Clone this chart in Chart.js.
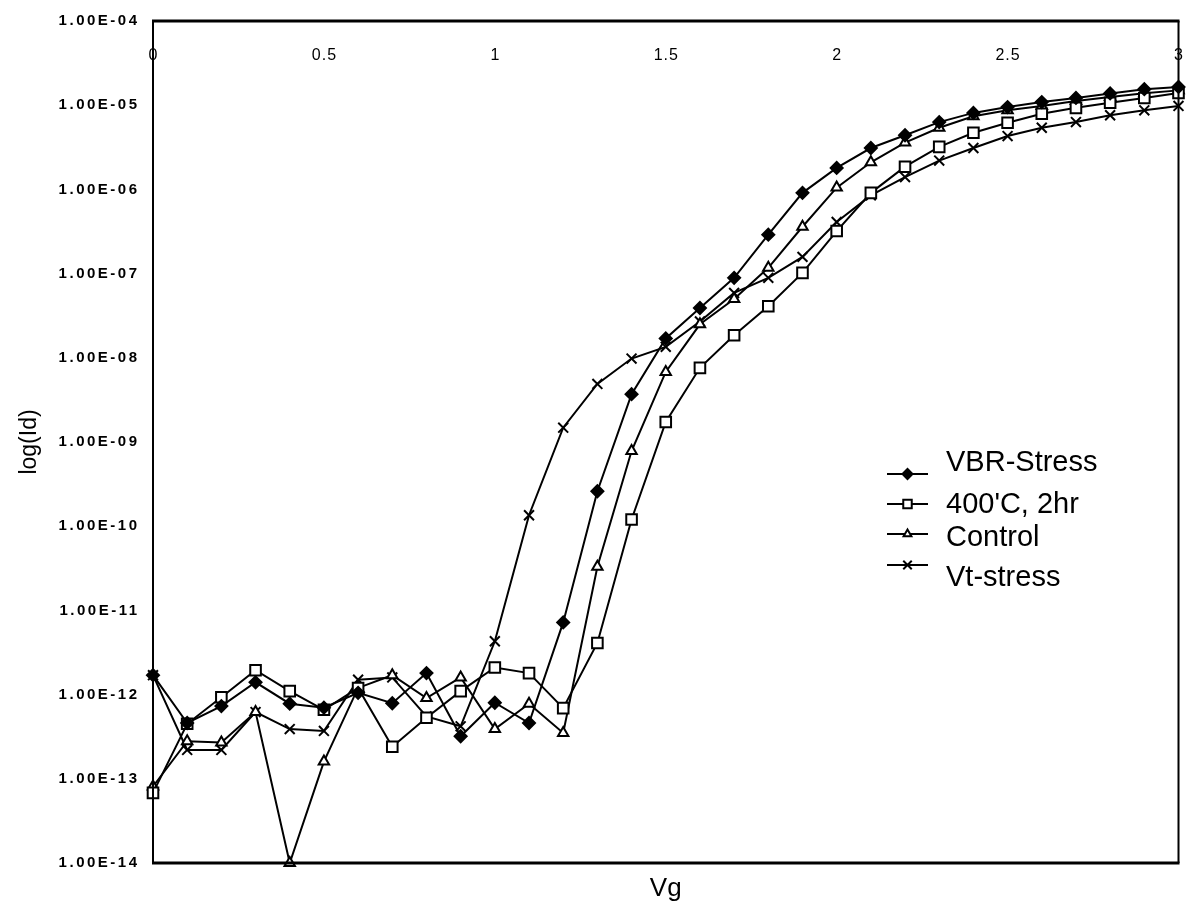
<!DOCTYPE html>
<html>
<head>
<meta charset="utf-8">
<title>log(Id) vs Vg</title>
<script src="https://cdn.jsdelivr.net/npm/chart.js@4.4.1/dist/chart.umd.min.js"></script>
<style>
  html, body { margin: 0; padding: 0; background: #fff; }
  #wrap { width: 1188px; height: 913px; }
</style>
</head>
<body>
<div id="wrap"><canvas id="c" width="1188" height="913"></canvas></div>
<script>
// Gate voltage sweep (V)
const vg = [0, 0.1, 0.2, 0.3, 0.4, 0.5, 0.6, 0.7, 0.8, 0.9, 1.0,
            1.1, 1.2, 1.3, 1.4, 1.5, 1.6, 1.7, 1.8, 1.9, 2.0,
            2.1, 2.2, 2.3, 2.4, 2.5, 2.6, 2.7, 2.8, 2.9, 3.0];

// Drain current (A) for each sample
const vbrStress = [1.7e-12, 4.6e-13, 7.3e-13, 1.4e-12, 7.8e-13, 7.0e-13, 1.05e-12, 7.9e-13, 1.8e-12, 3.2e-13, 8.0e-13,
                   4.6e-13, 7.2e-12, 2.6e-10, 3.7e-9, 1.7e-8, 3.9e-8, 8.9e-8, 2.9e-7, 9.1e-7, 1.8e-6,
                   3.1e-6, 4.4e-6, 6.3e-6, 8.1e-6, 9.5e-6, 1.09e-5, 1.22e-5, 1.38e-5, 1.55e-5, 1.65e-5];
const anneal400 = [6.8e-14, 4.5e-13, 9.3e-13, 1.95e-12, 1.1e-12, 6.6e-13, 1.2e-12, 2.4e-13, 5.3e-13, 1.1e-12, 2.1e-12,
                   1.8e-12, 6.9e-13, 4.1e-12, 1.2e-10, 1.73e-9, 7.6e-9, 1.85e-8, 4.1e-8, 1.02e-7, 3.2e-7,
                   9.1e-7, 1.86e-6, 3.2e-6, 4.7e-6, 6.2e-6, 7.9e-6, 9.3e-6, 1.07e-5, 1.22e-5, 1.4e-5];
const control = [8.1e-14, 2.8e-13, 2.7e-13, 6.2e-13, 1.0e-14, 1.6e-13, 1.2e-12, 1.7e-12, 9.1e-13, 1.6e-12, 3.9e-13,
                 7.8e-13, 3.5e-13, 3.3e-11, 7.8e-10, 6.8e-9, 2.5e-8, 5.0e-8, 1.17e-7, 3.6e-7, 1.05e-6,
                 2.1e-6, 3.6e-6, 5.4e-6, 7.4e-6, 8.7e-6, 9.8e-6, 1.12e-5, 1.25e-5, 1.39e-5, 1.5e-5];
const vtStress = [1.7e-12, 2.2e-13, 2.2e-13, 6.2e-13, 3.9e-13, 3.7e-13, 1.5e-12, 1.6e-12, 5.5e-13, 4.2e-13, 4.3e-12,
                  1.35e-10, 1.48e-9, 4.9e-9, 9.8e-9, 1.35e-8, 2.7e-8, 5.9e-8, 8.9e-8, 1.58e-7, 4.1e-7,
                  8.5e-7, 1.4e-6, 2.2e-6, 3.1e-6, 4.3e-6, 5.4e-6, 6.3e-6, 7.6e-6, 8.7e-6, 9.8e-6];

const seriesNames = ['VBR-Stress', "400'C, 2hr", 'Control', 'Vt-stress'];

// Axis ticks
const xTickValues = [0, 0.5, 1, 1.5, 2, 2.5, 3];
const xTickLabels = ['0', '0.5', '1', '1.5', '2', '2.5', '3'];
const yTickValues = [1e-14, 1e-13, 1e-12, 1e-11, 1e-10, 1e-9, 1e-8, 1e-7, 1e-6, 1e-5, 1e-4];
const yTickLabels = ['1.00E-14', '1.00E-13', '1.00E-12', '1.00E-11', '1.00E-10', '1.00E-09',
                     '1.00E-08', '1.00E-07', '1.00E-06', '1.00E-05', '1.00E-04'];

const FONT = '"Liberation Sans", Arial, Helvetica, sans-serif';

function pts(values) {
  return vg.map((x, i) => ({ x: x, y: values[i] }));
}

function series(label, values, style, radius, legendRadius, fill) {
  return {
    label: label,
    data: pts(values),
    borderColor: '#000',
    borderWidth: 2,
    pointStyle: style,
    pointRadius: radius,
    pointBorderColor: '#000',
    pointBorderWidth: 2,
    pointBackgroundColor: fill,
    legendRadius: legendRadius,
    tension: 0,
    clip: false
  };
}

// Frame, tick labels and legend
const decorPlugin = {
  id: 'decor',
  afterDraw(chart) {
    const ctx = chart.ctx;
    const a = chart.chartArea;
    const xs = chart.scales.x;
    const ys = chart.scales.y;
    ctx.save();
    ctx.strokeStyle = '#000';
    ctx.lineWidth = 3;
    ctx.beginPath();
    ctx.moveTo(a.left - 1, a.top);
    ctx.lineTo(a.right + 1, a.top);
    ctx.moveTo(a.left - 1, a.bottom);
    ctx.lineTo(a.right + 1, a.bottom);
    ctx.stroke();
    ctx.lineWidth = 2;
    ctx.beginPath();
    ctx.moveTo(a.left, a.top);
    ctx.lineTo(a.left, a.bottom);
    ctx.moveTo(a.right, a.top);
    ctx.lineTo(a.right, a.bottom);
    ctx.stroke();

    ctx.fillStyle = '#000';

    // y tick labels (widely spaced, right-aligned next to the axis)
    const ySpacing = 2.5;
    ctx.font = 'bold 15px ' + FONT;
    ctx.letterSpacing = ySpacing + 'px';
    ctx.textAlign = 'right';
    ctx.textBaseline = 'middle';
    yTickValues.forEach((v, i) => {
      ctx.fillText(yTickLabels[i], a.left - 16 + ySpacing, ys.getPixelForValue(v));
    });

    // x tick labels sit just inside the top edge
    ctx.font = '16px ' + FONT;
    ctx.letterSpacing = '1px';
    ctx.textAlign = 'center';
    xTickValues.forEach((v, i) => {
      ctx.fillText(xTickLabels[i], xs.getPixelForValue(v) + 0.5, a.top + 35);
    });
    ctx.letterSpacing = '0px';

    // legend
    const rows = [
      { line: 474, text: 463 },
      { line: 504, text: 505 },
      { line: 534, text: 538 },
      { line: 565, text: 578 }
    ];
    const x0 = 887, x1 = 928, tx = 946;
    chart.data.datasets.forEach((ds, i) => {
      const r = rows[i];
      ctx.strokeStyle = '#000';
      ctx.lineWidth = 2;
      ctx.beginPath();
      ctx.moveTo(x0, r.line);
      ctx.lineTo(x1, r.line);
      ctx.stroke();
      ctx.fillStyle = ds.pointBackgroundColor;
      ctx.strokeStyle = '#000';
      Chart.helpers.drawPoint(ctx, {
        pointStyle: ds.pointStyle,
        radius: ds.legendRadius,
        rotation: 0,
        borderWidth: 2
      }, (x0 + x1) / 2, r.line);
      ctx.fillStyle = '#000';
      ctx.font = '29px ' + FONT;
      ctx.textAlign = 'left';
      ctx.textBaseline = 'middle';
      ctx.fillText(ds.label, tx, r.text);
    });
    ctx.restore();
  }
};

new Chart(document.getElementById('c'), {
  type: 'line',
  data: {
    datasets: [
      series(seriesNames[0], vbrStress, 'rectRot', 6, 5, '#000'),
      series(seriesNames[1], anneal400, 'rect', 7.5, 6, '#fff'),
      series(seriesNames[2], control, 'triangle', 6, 4.5, '#fff'),
      series(seriesNames[3], vtStress, 'crossRot', 7, 6, '#000')
    ]
  },
  options: {
    responsive: false,
    animation: false,
    devicePixelRatio: 1,
    layout: { padding: { top: 21, right: 7, left: 0, bottom: 0 } },
    plugins: {
      legend: { display: false },
      tooltip: { enabled: false }
    },
    scales: {
      x: {
        type: 'linear',
        min: 0,
        max: 3,
        grid: { display: false, drawTicks: false },
        border: { display: false },
        ticks: { display: false },
        title: {
          display: true,
          text: 'Vg',
          color: '#000',
          font: { family: FONT, size: 26 },
          padding: { top: 0, bottom: 9 }
        },
        afterFit(scale) { scale.height = 50; }
      },
      y: {
        type: 'logarithmic',
        min: 1e-14,
        max: 1e-4,
        grid: { display: false, drawTicks: false },
        border: { display: false },
        afterBuildTicks(scale) {
          scale.ticks = yTickValues.map(v => ({ value: v }));
        },
        ticks: { display: false },
        title: {
          display: true,
          text: 'log(Id)',
          color: '#000',
          font: { family: FONT, size: 23 },
          padding: { top: 16, bottom: 0 }
        },
        afterFit(scale) { scale.width = 153; }
      }
    }
  },
  plugins: [decorPlugin]
});
</script>
</body>
</html>
